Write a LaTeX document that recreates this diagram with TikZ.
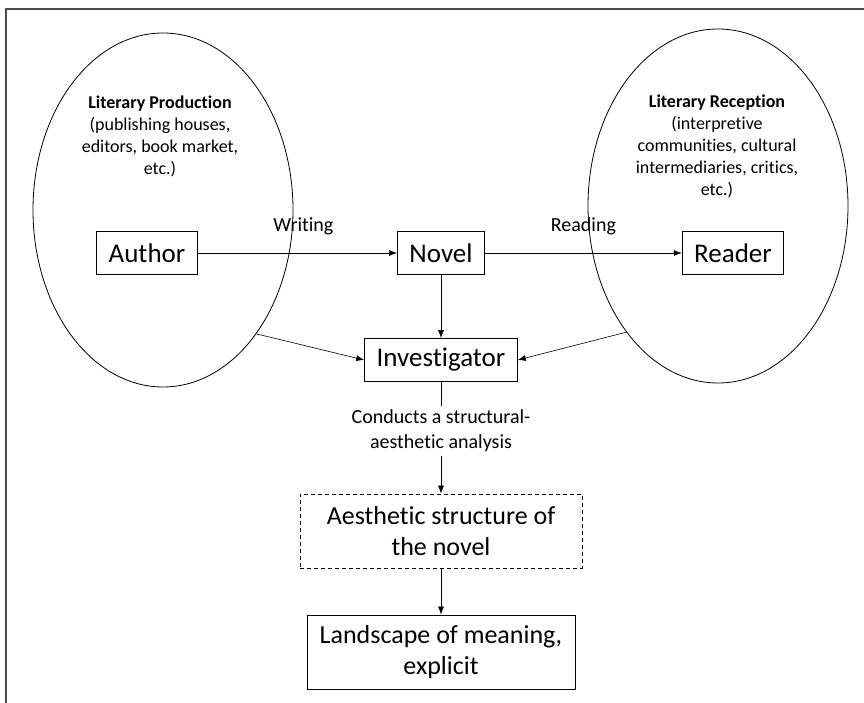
\documentclass[tikz,border=0pt]{standalone}
\usepackage{fontspec}
\setmainfont{Carlito}[Ligatures=NoCommon]
\usetikzlibrary{shapes.geometric,arrows.meta}
\begin{document}
\begin{tikzpicture}[x=1pt,y=-1pt]
       \tikzstyle{plainbox}=[draw, line width=0.8pt, inner xsep=12pt, minimum height=43pt, font=\fontsize{27}{30}\selectfont]
       \tikzstyle{bigbox}=[plainbox, align=center, minimum height=74pt, font=\fontsize{26}{31}\selectfont]
       \tikzstyle{field}=[ellipse, draw, line width=0.8pt, minimum width=260pt, minimum height=354pt]
       \tikzstyle{fieldtext}=[align=center, font=\fontsize{18}{22}\selectfont]
       \tikzstyle{edgetext}=[font=\fontsize{20}{25}\selectfont]
       \tikzstyle{arrow}=[-{Latex[length=8pt,width=6pt]}, line width=0.6pt]
       \useasboundingbox (0,0) rectangle (864,703);
       \draw[gray!60!black, line width=1.2pt] (864,9) -- (6,9) -- (6,703);
       % the two fields round author and reader
       \node[field] (prod) at (163,210) {};
       \node[field] (recep) at (718,206) {};
       \node[fieldtext] (prodtext) at (160,136) {\textbf{Literary Production}\\(publishing houses,\\editors, book market,\\etc.)};
       \node[fieldtext] (receptext) at (717,146) {\textbf{Literary Reception}\\(interpretive\\communities, cultural\\intermediaries, critics,\\etc.)};
       \node[plainbox] (author) at (147,253) {Author};
       \node[plainbox] (novel) at (441,253) {Novel};
       \node[plainbox] (reader) at (733,253) {Reader};
       \node[plainbox] (inv) at (441,360) {Investigator};
       \node[edgetext, align=center] (conducts) at (441,431) {Conducts a structural-\\aesthetic analysis};
       \node[bigbox, dash pattern=on 4pt off 3pt, minimum width=282pt] (aes) at (441,531) {Aesthetic structure of\\the novel};
       \node[bigbox, minimum width=268pt] (land) at (441,652) {Landscape of meaning,\\explicit};
       % connectors
       \draw[arrow] (author) -- node[edgetext, above=14pt, pos=0.53] {Writing} (novel);
       \draw[arrow] (novel) -- node[edgetext, above=14pt] {Reading} (reader);
       \draw[arrow] (novel) -- (inv);
       \draw[arrow] (prod.-53) -- (inv.west);
       \draw[arrow] (recep.234) -- (inv.east);
       \draw[line width=0.6pt] (inv) -- (conducts);
       \draw[arrow] (conducts) -- (aes);
       \draw[arrow] (aes) -- (land);
\end{tikzpicture}
\end{document}
